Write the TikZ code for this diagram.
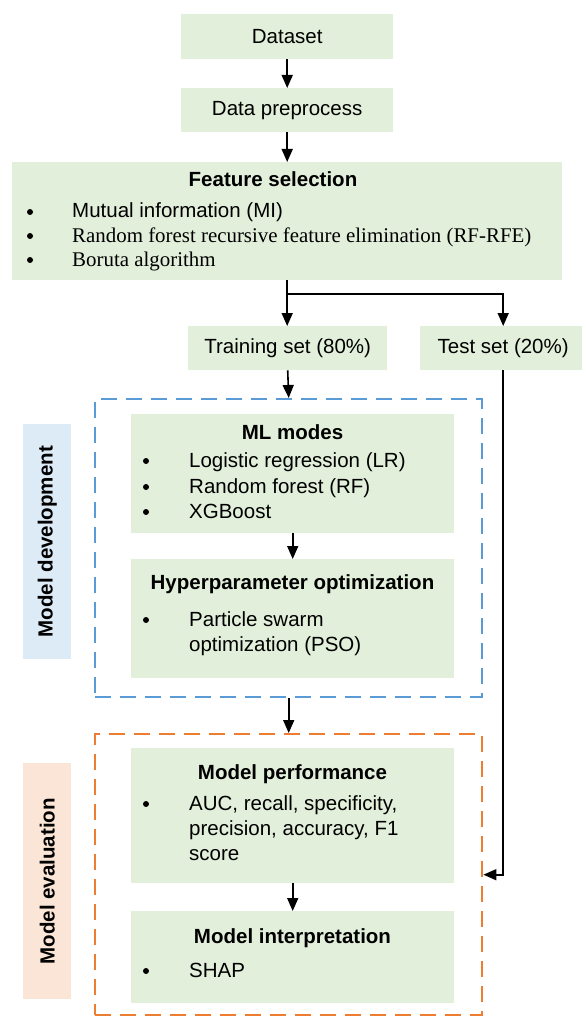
\documentclass[tikz,border=0pt]{standalone}
\usepackage{fontspec}
\setmainfont{Liberation Sans}
\newfontfamily\serifitem{Liberation Serif}
\usetikzlibrary{arrows.meta}

\definecolor{stagegreen}{HTML}{E2EFDA}
\definecolor{devblue}{HTML}{5B9BD5}
\definecolor{devtagblue}{HTML}{DDEBF7}
\definecolor{evalorange}{HTML}{ED7D31}
\definecolor{evaltagpeach}{HTML}{FBE5D6}

\newcommand\fsz{\fontsize{20.5}{25}\selectfont}

\begin{document}
\begin{tikzpicture}[x=1pt, y=-1pt,
  stage/.style={fill=stagegreen, inner sep=0pt, anchor=north west, font=\fsz},
  phase/.style={line width=2.4pt, dash pattern=on 16pt off 9pt, inner sep=0pt, anchor=north west},
  tag/.style={inner sep=0pt, anchor=north west, minimum width=48pt},
  head/.style={anchor=base, inner sep=0pt, font=\fsz\bfseries},
  item/.style={anchor=base west, inner sep=0pt, font=\fsz},
  flow/.style={-{Triangle[width=11pt,length=13pt]}, line width=1.6pt}]

  %% ---- top of the pipeline ----
  \node[stage, minimum width=212pt, minimum height=45pt] (dataset) at (181,14) {Dataset};
  \node[stage, minimum width=212pt, minimum height=44pt] (prep) at (181,88) {Data preprocess};
  \node[stage, minimum width=550pt, minimum height=118pt] (featsel) at (12,162) {};
  \node[stage, minimum width=199pt, minimum height=44pt] (train) at (188,326) {Training set (80\%)};
  \node[stage, minimum width=166pt, minimum height=44pt] (test) at (420,326) {Test set (20\%)};

  % feature selection text
  \node[head] at (273,187) {Feature selection};
  \fill (30,212) circle (3);
  \fill (30,236) circle (3);
  \fill (30,260) circle (3);
  \node[item] at (72,218) {Mutual information (MI)};
  \node[item, font=\fontsize{20.9}{25}\selectfont\serifitem] at (72,242) {Random forest recursive feature elimination (RF-RFE)};
  \node[item, font=\fontsize{20.9}{25}\selectfont\serifitem] at (72,266.5) {Boruta algorithm};

  %% ---- dashed phase frames + side tags ----
  \node[phase, draw=devblue, minimum width=387pt, minimum height=298pt] (dev) at (94,398) {};
  \node[phase, draw=evalorange, minimum width=387pt, minimum height=281pt] (eval) at (94,733) {};
  \node[tag, fill=devtagblue, minimum height=235pt] (devtag) at (23,424) {};
  \node[rotate=90, font=\fsz\bfseries] at (devtag) {Model development};
  \node[tag, fill=evaltagpeach, minimum height=236pt] (evaltag) at (23,763) {};
  \node[rotate=90, font=\fsz\bfseries] at (evaltag) {Model evaluation};

  %% ---- model development ----
  \node[stage, minimum width=323pt, minimum height=119pt] (mlmodes) at (131,414) {};
  \node[head] at (292.5,439) {ML modes};
  \fill (146,461) circle (3);
  \fill (146,487) circle (3);
  \fill (146,512) circle (3);
  \node[item] at (189,467) {Logistic regression (LR)};
  \node[item] at (189,493) {Random forest (RF)};
  \node[item] at (189,518) {XGBoost};

  \node[stage, minimum width=323pt, minimum height=119pt] (hyper) at (131,559) {};
  \node[head] at (292.5,589) {Hyperparameter optimization};
  \fill (146,620) circle (3);
  \node[item] at (189,626) {Particle swarm};
  \node[item] at (189,651) {optimization (PSO)};

  %% ---- model evaluation ----
  \node[stage, minimum width=323pt, minimum height=135pt] (perf) at (131,748) {};
  \node[head] at (292.5,779) {Model performance};
  \fill (146,804) circle (3);
  \node[item] at (189,810) {AUC, recall, specificity,};
  \node[item] at (189,835) {precision, accuracy, F1};
  \node[item] at (189,860) {score};

  \node[stage, minimum width=323pt, minimum height=92pt] (interp) at (131,911) {};
  \node[head] at (292.5,943) {Model interpretation};
  \fill (146,971) circle (3);
  \node[item] at (189,977) {SHAP};

  %% ---- connectors ----
  \coordinate (split) at (287,294);
  \draw[flow] (dataset.south) -- (prep.north);
  \draw[flow] (prep.south) -- (featsel.north);
  \draw[flow] (featsel.south) -- (featsel.south |- train.north);
  \draw[flow] (split) -| (test.north);
  \draw[flow] (train.south) -- (dev.north);
  \draw[flow] (mlmodes.south) -- (hyper.north);
  \draw[flow] (dev.south) -- (eval.north);
  \draw[flow] (perf.south) -- (interp.north);
  \draw[flow] (test.south) |- (eval.east);

  \pgfresetboundingbox
  \path[use as bounding box] (0,0) rectangle (581,1016);
\end{tikzpicture}
\end{document}
